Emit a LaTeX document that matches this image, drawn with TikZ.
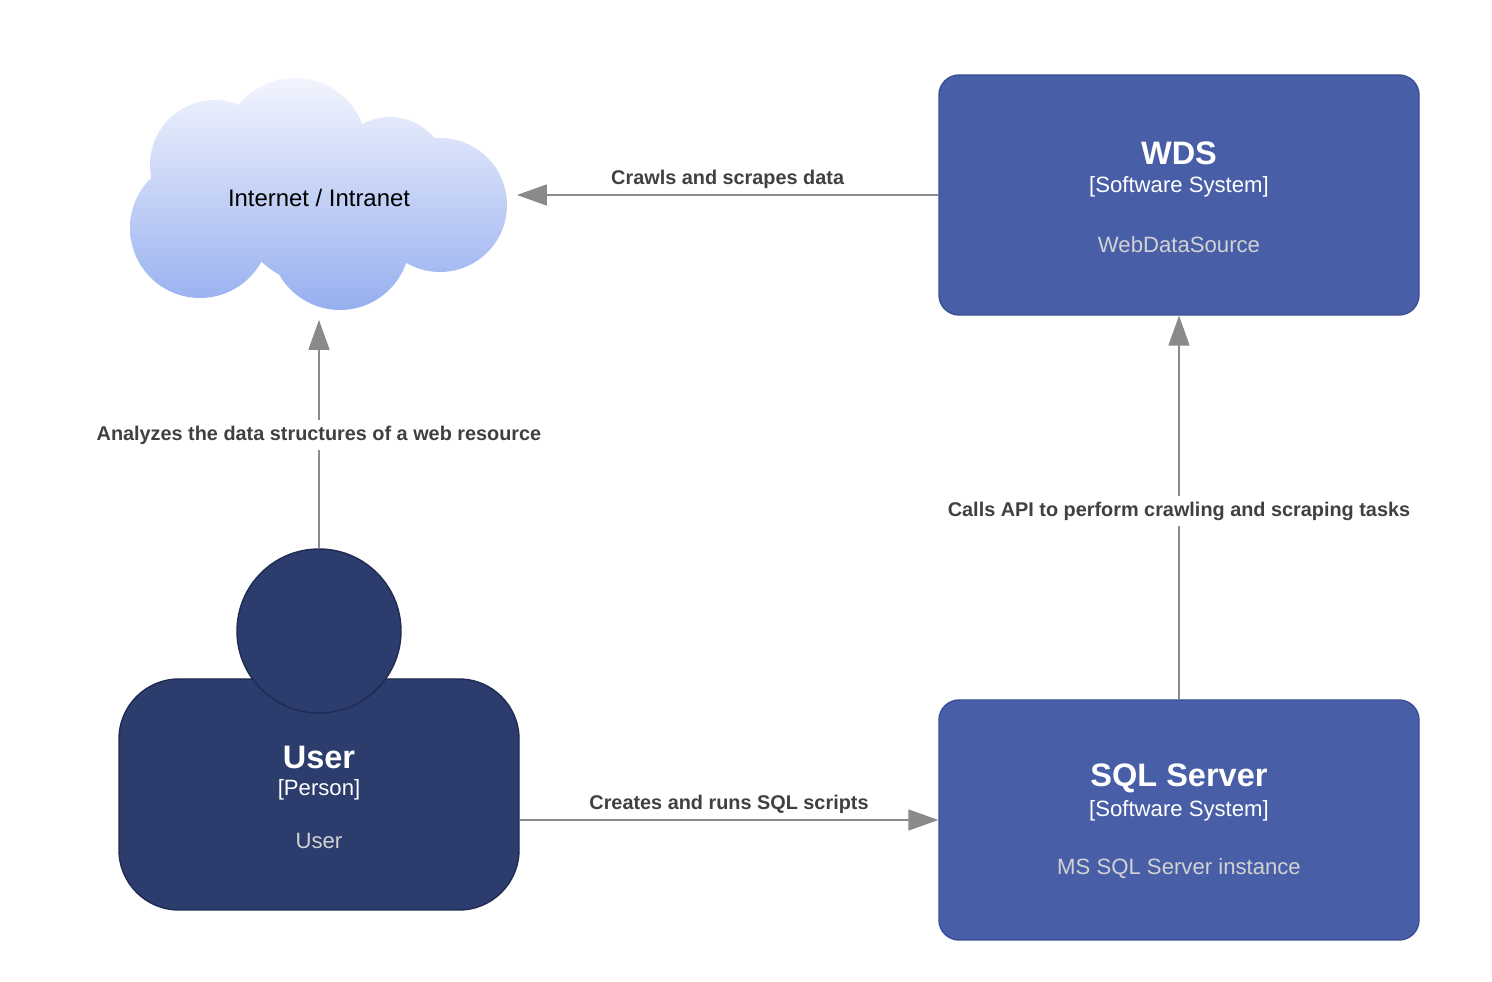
\documentclass[tikz,border=0pt]{standalone}
\usepackage{fontspec}
\setmainfont{Liberation Sans}
\usetikzlibrary{arrows.meta}
\definecolor{sysfill}{HTML}{485FA8}
\definecolor{sysdraw}{HTML}{3A4E92}
\definecolor{perfill}{HTML}{2C3D6D}
\definecolor{perdraw}{HTML}{1E2B52}
\definecolor{arr}{HTML}{8A8A8A}
\definecolor{lbl}{HTML}{404040}
\definecolor{sub}{HTML}{D2D2D2}
\definecolor{cltop}{HTML}{F2F5FD}
\definecolor{clbot}{HTML}{97AFF0}
\begin{document}
\begin{tikzpicture}[x=0.02cm,y=-0.02cm,
  sys/.style={draw=sysdraw,line width=0.8pt,fill=sysfill,rounded corners=20*0.02cm,minimum width=480*0.02cm,minimum height=240*0.02cm},
  conn/.style={draw=arr,line width=0.7pt,-{Triangle[length=17pt,width=12pt]}},
  lab/.style={font=\fontsize{11.3}{13}\selectfont\bfseries,text=lbl},
  ttl/.style={font=\fontsize{18.5}{20}\selectfont\bfseries,text=white},
  typ/.style={font=\fontsize{12.6}{15}\selectfont,text=white},
  dsc/.style={font=\fontsize{12.6}{15}\selectfont,text=sub}]
\useasboundingbox (0,0) rectangle (1492,982);
% cloud
\shade[top color=cltop, bottom color=clbot]
  (215,165) circle[radius=65] (295,150) circle[radius=72] (390,175) circle[radius=58]
  (200,228) circle[radius=70] (340,240) circle[radius=70] (440,205) circle[radius=67]
  (320,200) circle[radius=85];
\node[font=\fontsize{13.6}{15}\selectfont] (net) at (319,198) {Internet / Intranet};
\coordinate (netR) at (517,195);
\coordinate (netB) at (319,320);
% WDS
\node[sys] (wds) at (1179,195) {};
\node[ttl] (wdst) at (1179,153) {WDS};
\node[typ] (wdsy) at (1179,187) {[Software System]};
\node[dsc] (wdsd) at (1179,245) {WebDataSource};
% SQL
\node[sys] (sql) at (1179,820) {};
\node[ttl] (sqlt) at (1179,778) {SQL Server};
\node[typ] (sqly) at (1179,811) {[Software System]};
\node[dsc] (sqld) at (1179,869) {MS SQL Server instance};
% User
\node[draw=perdraw,line width=0.8pt,fill=perfill,rounded corners=60*0.02cm,minimum width=400*0.02cm,minimum height=231*0.02cm] (user) at (319,794.5) {};
\node[draw=perdraw,line width=0.8pt,fill=perfill,circle,minimum size=164*0.02cm] (head) at (319,631) {};
\node[ttl] (usert) at (319,757) {User};
\node[typ] (usery) at (319,790) {[Person]};
\node[dsc] (userd) at (319,841) {User};
% connectors
\draw[conn] (wds.west) -- node[lab,above=0pt,pos=0.5] {Crawls and scrapes data} (netR);
\draw[conn] (head.north) -- node[lab,fill=white,pos=0.495] {Analyzes the data structures of a web resource} (netB);
\draw[conn] (sql.north) -- node[lab,fill=white,pos=0.49] {Calls API to perform crawling and scraping tasks} (wds.south);
\draw[conn] (user.east|-sql.west) -- node[lab,above=0pt] {Creates and runs SQL scripts} (sql.west);
\end{tikzpicture}
\end{document}
